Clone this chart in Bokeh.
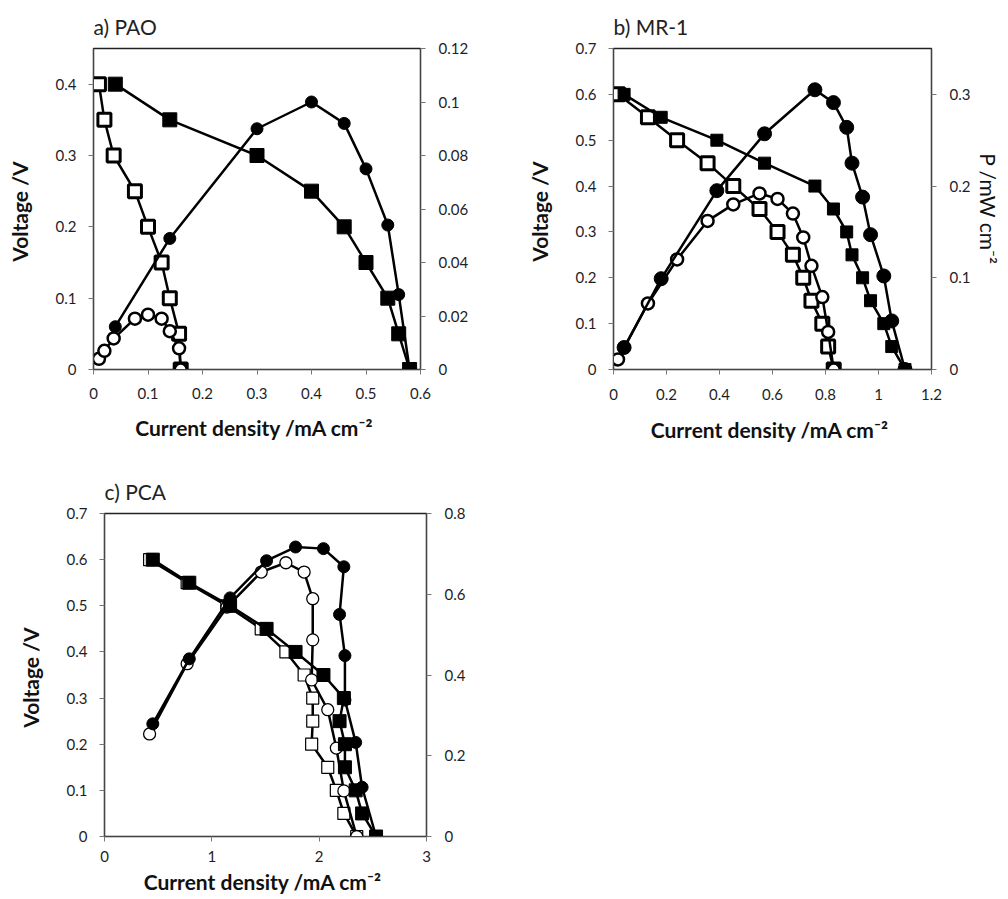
from bokeh.plotting import figure
from bokeh.models import Range1d, LinearAxis, FixedTicker
from bokeh.layouts import column, row
from bokeh.embed import file_html
from bokeh.resources import INLINE

FONT = "Lato"
TXT = "#1e1e28"

# ---------------- Panel a) PAO ----------------
a_fill_i = [0.04, 0.14, 0.30, 0.40, 0.46, 0.50, 0.54, 0.56, 0.58]
a_fill_v = [0.40, 0.35, 0.30, 0.25, 0.20, 0.15, 0.10, 0.05, 0.0]
a_fill_p = [0.016, 0.049, 0.090, 0.100, 0.092, 0.075, 0.054, 0.028, 0.0]
a_open_i = [0.01, 0.02, 0.037, 0.076, 0.10, 0.125, 0.14, 0.157, 0.16]
a_open_v = [0.40, 0.35, 0.30, 0.25, 0.20, 0.15, 0.10, 0.05, 0.0]
a_open_p = [0.004, 0.007, 0.0116, 0.019, 0.0205, 0.019, 0.0143, 0.0079, 0.0]
a_x_ticks = [0, 0.1, 0.2, 0.3, 0.4, 0.5, 0.6]
a_x_labels = ["0", "0.1", "0.2", "0.3", "0.4", "0.5", "0.6"]
a_yl_ticks = [0, 0.1, 0.2, 0.3, 0.4]
a_yl_labels = ["0", "0.1", "0.2", "0.3", "0.4"]
a_yr_ticks = [0, 0.02, 0.04, 0.06, 0.08, 0.1, 0.12]
a_yr_labels = ["0", "0.02", "0.04", "0.06", "0.08", "0.1", "0.12"]

# ---------------- Panel b) MR-1 ----------------
b_fill_i = [0.04, 0.18, 0.39, 0.57, 0.76, 0.83, 0.88, 0.90, 0.94, 0.97, 1.02, 1.05, 1.10]
b_fill_v = [0.60, 0.55, 0.50, 0.45, 0.40, 0.35, 0.30, 0.25, 0.20, 0.15, 0.10, 0.05, 0.0]
b_fill_p = [0.024, 0.099, 0.195, 0.257, 0.305, 0.291, 0.264, 0.225, 0.188, 0.147, 0.102, 0.053, 0.0]
b_open_i = [0.017, 0.13, 0.24, 0.355, 0.452, 0.551, 0.619, 0.677, 0.716, 0.747, 0.788, 0.81, 0.831]
b_open_v = [0.60, 0.55, 0.50, 0.45, 0.40, 0.35, 0.30, 0.25, 0.20, 0.15, 0.10, 0.05, 0.0]
b_open_p = [0.011, 0.072, 0.120, 0.162, 0.180, 0.192, 0.186, 0.170, 0.144, 0.113, 0.079, 0.041, 0.0]
b_x_ticks = [0, 0.2, 0.4, 0.6, 0.8, 1.0, 1.2]
b_x_labels = ["0", "0.2", "0.4", "0.6", "0.8", "1", "1.2"]
b_yl_ticks = [0, 0.1, 0.2, 0.3, 0.4, 0.5, 0.6, 0.7]
b_yl_labels = ["0", "0.1", "0.2", "0.3", "0.4", "0.5", "0.6", "0.7"]
b_yr_ticks = [0, 0.1, 0.2, 0.3]
b_yr_labels = ["0", "0.1", "0.2", "0.3"]

# ---------------- Panel c) PCA ----------------
c_fill_i = [0.45, 0.79, 1.17, 1.51, 1.78, 2.04, 2.23, 2.19, 2.24, 2.24, 2.34, 2.40, 2.53]
c_fill_v = [0.60, 0.55, 0.50, 0.45, 0.40, 0.35, 0.30, 0.25, 0.20, 0.15, 0.10, 0.05, 0.0]
c_fill_p = [0.279, 0.44, 0.591, 0.683, 0.717, 0.713, 0.668, 0.55, 0.448, 0.338, 0.233, 0.122, 0.0]
c_open_i = [0.42, 0.77, 1.14, 1.46, 1.69, 1.86, 1.94, 1.94, 1.93, 2.08, 2.16, 2.23, 2.35]
c_open_v = [0.60, 0.55, 0.50, 0.45, 0.40, 0.35, 0.30, 0.25, 0.20, 0.15, 0.10, 0.05, 0.0]
c_open_p = [0.254, 0.428, 0.568, 0.655, 0.678, 0.655, 0.589, 0.487, 0.388, 0.314, 0.219, 0.113, 0.0]
c_x_ticks = [0, 1, 2, 3]
c_x_labels = ["0", "1", "2", "3"]
c_yl_ticks = [0, 0.1, 0.2, 0.3, 0.4, 0.5, 0.6, 0.7]
c_yl_labels = ["0", "0.1", "0.2", "0.3", "0.4", "0.5", "0.6", "0.7"]
c_yr_ticks = [0, 0.2, 0.4, 0.6, 0.8]
c_yr_labels = ["0", "0.2", "0.4", "0.6", "0.8"]

X_LABEL = "Current density  /mA cm\u207b\u00b2"
V_LABEL = "Voltage  /V"
P_LABEL = "P /mW cm\u207b\u00b2"


def style_axis(ax, ticks, labels, label_standoff, major_standoff):
    ax.ticker = FixedTicker(ticks=ticks)
    ax.major_label_overrides = dict(zip(ticks, labels))
    ax.minor_tick_line_color = None
    ax.major_tick_in = 0
    ax.major_tick_out = 5
    ax.major_tick_line_color = "#777777"
    ax.axis_line_color = "#444444"
    ax.major_label_text_font = FONT
    ax.major_label_text_font_size = "15px"
    ax.major_label_text_color = TXT
    ax.major_label_standoff = major_standoff
    ax.axis_label_text_font = FONT
    ax.axis_label_text_font_size = "21px"
    ax.axis_label_text_font_style = "bold"
    ax.axis_label_text_color = "#111111"
    ax.axis_label_standoff = label_standoff


def make_panel(title, width, height, bl, br, bt, bb, x_end, yl_end, yr_end,
               xt, xtl, ylt, yltl, yrt, yrtl, right_label,
               fi, fv, fp, oi, ov, op, st):
    p = figure(width=width, height=height,
               x_range=Range1d(0, x_end), y_range=Range1d(0, yl_end),
               output_backend="svg", toolbar_location=None,
               min_border_left=bl, min_border_right=br,
               min_border_top=bt, min_border_bottom=bb)
    p.extra_y_ranges = {"power": Range1d(0, yr_end)}
    p.xgrid.visible = False
    p.ygrid.visible = False
    p.outline_line_color = "#222222"
    p.outline_line_width = 1.5
    p.background_fill_color = "white"
    p.border_fill_color = "white"

    p.title.text = title
    p.title.text_font = FONT
    p.title.text_font_size = "21px"
    p.title.text_font_style = "normal"
    p.title.text_color = "#222222"
    p.title.align = "left"
    p.title.offset = 0
    p.title.standoff = st["tso"]

    style_axis(p.xaxis[0], xt, xtl, st["xls"], st["xms"])
    p.xaxis[0].axis_label = X_LABEL
    style_axis(p.yaxis[0], ylt, yltl, st["yls"], st["yms"])
    p.yaxis[0].axis_label = V_LABEL

    rax = LinearAxis(y_range_name="power")
    style_axis(rax, yrt, yrtl, st["rls"], st["rms"])
    if right_label:
        rax.axis_label = right_label
        rax.axis_label_text_font_style = "normal"
    p.add_layout(rax, "right")

    lw = st["lw"]
    # open squares (voltage)
    p.line(oi, ov, line_color="black", line_width=lw)
    p.scatter(oi, ov, marker="square", size=st["osq_size"], fill_color="white",
              line_color="black", line_width=st["osq_lw"])
    # open circles (power)
    p.line(oi, op, line_color="black", line_width=lw, y_range_name="power")
    p.scatter(oi, op, marker="circle", size=st["oci_size"], fill_color="white",
              line_color="black", line_width=st["oci_lw"], y_range_name="power")
    # filled squares (voltage)
    p.line(fi, fv, line_color="black", line_width=lw)
    p.scatter(fi, fv, marker="square", size=st["fsq_size"], fill_color="black",
              line_color="black", line_width=1)
    # filled circles (power)
    p.line(fi, fp, line_color="black", line_width=lw, y_range_name="power")
    p.scatter(fi, fp, marker="circle", size=st["fci_size"], fill_color="black",
              line_color="black", line_width=1, y_range_name="power")
    return p


st_a = dict(tso=19, xls=13, xms=13, yls=21, yms=12, rls=8, rms=13, lw=2.5,
            osq_size=13, osq_lw=3, oci_size=12, oci_lw=2.5, fsq_size=14, fci_size=12)
st_b = dict(tso=19, xls=14, xms=14, yls=21, yms=12, rls=3, rms=13, lw=2.5,
            osq_size=13, osq_lw=3, oci_size=12, oci_lw=2.5, fsq_size=12, fci_size=14)
st_c = dict(tso=19, xls=4, xms=9, yls=21, yms=12, rls=8, rms=13, lw=2.5,
            osq_size=12, osq_lw=1.2, oci_size=12, oci_lw=1.3, fsq_size=13, fci_size=12)

pa = make_panel("a) PAO", 500, 455, 93, 80, 48, 83, 0.6, 0.45, 0.12,
                a_x_ticks, a_x_labels, a_yl_ticks, a_yl_labels, a_yr_ticks, a_yr_labels, None,
                a_fill_i, a_fill_v, a_fill_p, a_open_i, a_open_v, a_open_p, st_a)
pb = make_panel("b) MR-1", 504, 455, 113, 68, 44, 86, 1.2, 0.7, 0.35,
                b_x_ticks, b_x_labels, b_yl_ticks, b_yl_labels, b_yr_ticks, b_yr_labels, P_LABEL,
                b_fill_i, b_fill_v, b_fill_p, b_open_i, b_open_v, b_open_p, st_b)
pc = make_panel("c) PCA", 500, 442, 104, 74, 58, 61, 3.0, 0.7, 0.8,
                c_x_ticks, c_x_labels, c_yl_ticks, c_yl_labels, c_yr_ticks, c_yr_labels, None,
                c_fill_i, c_fill_v, c_fill_p, c_open_i, c_open_v, c_open_p, st_c)

layout = column(row(pa, pb), pc)
open("out.html", "w").write(file_html(layout, INLINE))
